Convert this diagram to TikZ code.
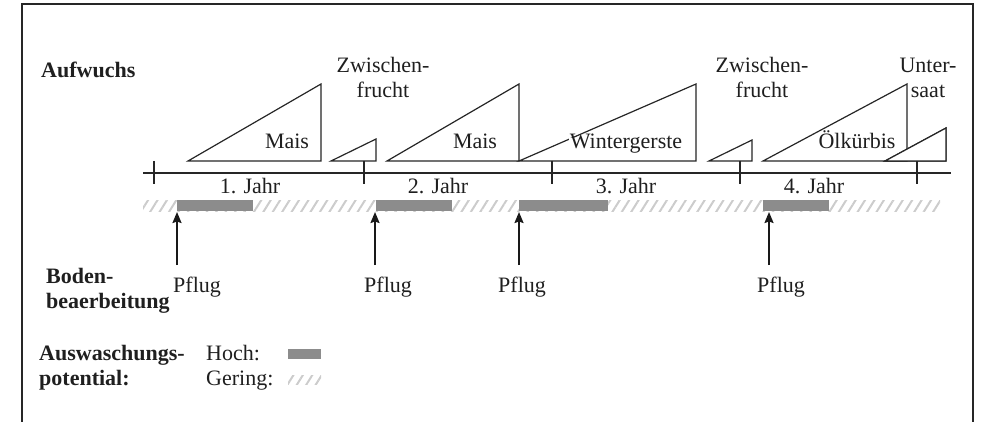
\documentclass[tikz,border=0pt]{standalone}
\usepackage{fontspec}
\setmainfont{Liberation Serif}
\usetikzlibrary{arrows.meta,patterns.meta}

\tikzset{
	lbl/.style={inner sep=1pt,text=black!88,font=\fontsize{22}{25}\selectfont},
	head/.style={lbl,align=left,font=\fontsize{22}{25}\selectfont\bfseries},
	crop/.style={draw=black!85,line width=1.2pt,fill=white},
	cut/.style={lbl,fill=white,text height=0.95em,text depth=0.22em},
	high/.style={fill=black!45},
	low/.style={pattern={Lines[angle=58,distance=8pt,line width=2pt]},pattern color=black!20},
	pflug/.style={line width=1.8pt,draw=black!90,-{Stealth[length=11pt,width=9pt,inset=1.5pt]}}
}

\begin{document}
\begin{tikzpicture}[x=1pt,y=-1pt]
\useasboundingbox (0,0) rectangle (981,422);
\draw[line width=2pt,black!85] (22,422) -- (22,4) -- (973,4) -- (973,422);

% Aufwuchs
\node[head,anchor=base west] (aufwuchs) at (40,78) {Aufwuchs};
\foreach \a/\b/\t in {188/321/84, 331/376/139, 387/519/84, 519/696/84, 709/752/140, 763/907/84, 885/946/128}
	\draw[crop] (\a,161) -- (\b,161) -- (\b,\t) -- cycle;
\node[lbl,anchor=base] (mais1) at (287,149) {Mais};
\node[lbl,anchor=base] (mais2) at (475,149) {Mais};
\node[cut,anchor=base] (gerste) at (626,149) {Wintergerste};
\node[cut,anchor=base] (kuerbis) at (857,149) {Ölkürbis};
\draw[crop] (885,161) -- (946,161) -- (946,128) -- cycle;
\node[lbl,align=center,anchor=base] (zwf1) at (383,98) {Zwischen-\\frucht};
\node[lbl,align=center,anchor=base] (zwf2) at (762,98) {Zwischen-\\frucht};
\node[lbl,align=center,anchor=base] (usaat) at (928,98) {Unter-\\saat};

% Zeitachse
\draw[line width=1.5pt,black!85] (143,173) -- (951,173);
\foreach \x in {154,364,552,740,917}
	\draw[line width=1.2pt,black!85] (\x,161) -- (\x,184);
\node[lbl,anchor=base] (jahr1) at (250,193) {1. Jahr};
\node[lbl,anchor=base] (jahr2) at (438,193) {2. Jahr};
\node[lbl,anchor=base] (jahr3) at (626,193) {3. Jahr};
\node[lbl,anchor=base] (jahr4) at (814,193) {4. Jahr};

% Auswaschung
\fill[low] (143,200) rectangle (940,211);
\foreach \a/\b in {177/253, 376/452, 519/608, 763/829}
	\fill[high] (\a,200) rectangle (\b,211);

% Bodenbearbeitung
\node[head,anchor=base west] (boden) at (45,308) {Boden-\\beaerbeitung};
\foreach \x/\l [count=\i] in {177/172, 375/363, 519/497, 769/756} {
	\coordinate (fuss\i) at (\x,265);
	\coordinate (spitze\i) at (\x,212);
	\draw[pflug] (fuss\i) -- (spitze\i);
	\node[lbl,anchor=base west] (pflug\i) at (\l,292) {Pflug};
}

% Legende
\node[head,anchor=base west] (potential) at (38,385) {Auswaschungs-\\potential:};
\node[lbl,anchor=base west] (hoch) at (205,360) {Hoch:};
\node[lbl,anchor=base west] (gering) at (205,385) {Gering:};
\fill[high] (288,349) rectangle (321,359);
\fill[low] (288,375) rectangle (321,384);
\end{tikzpicture}
\end{document}
